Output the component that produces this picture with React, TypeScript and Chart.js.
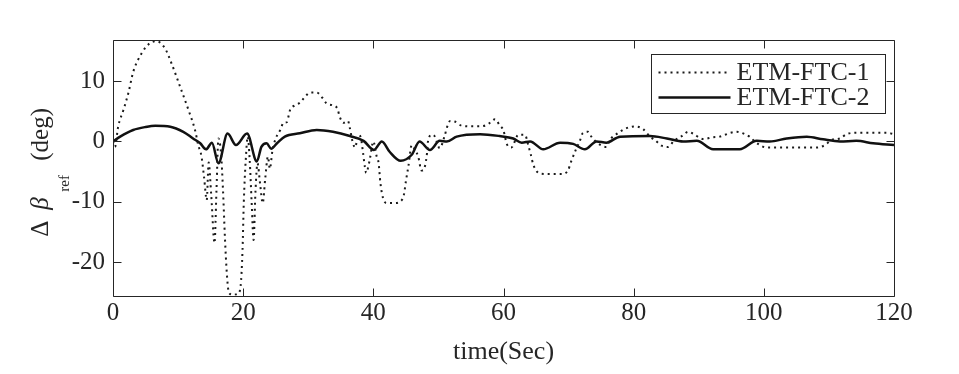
import React, { useEffect, useRef } from "react";
import { Chart, registerables } from "chart.js";

Chart.register(...registerables);

const FONT = "'Liberation Serif', 'Times New Roman', serif";
const INK = "#262626";

const X_TICKS = [0, 20, 40, 60, 80, 100, 120];
const Y_TICKS = [-20, -10, 0, 10];
const X_MIN = 0;
const X_MAX = 120;
const Y_MIN = -25.5;
const Y_MAX = 16.8;
const SERIES_LABELS = ["ETM-FTC-1", "ETM-FTC-2"];

// ETM-FTC-1 (dotted)
const T1 = [
  0, 0.3, 0.8, 1.6, 2.4, 3.1, 4.4, 5.7, 6.7, 8.0, 9.0, 10.3, 11.6, 12.6, 13.1, 13.6, 14.0, 14.4, 14.7, 15.1,
  15.6, 15.9, 16.2, 16.6, 16.9, 17.2, 17.5, 17.8, 18.5, 19.2, 19.6, 19.9, 20.1, 20.4, 20.7, 21.0, 21.3, 21.6,
  21.9, 22.2, 22.6, 23.0, 23.4, 23.8, 24.1, 24.5, 25.0, 25.7, 26.2, 26.7, 27.2, 28.0, 28.7, 29.5, 30.3, 31.3,
  32.2, 32.8, 33.7, 34.5, 34.8, 35.4, 36.1, 36.4, 36.8, 37.2, 37.7, 38.1, 38.4, 38.7, 38.9, 39.2, 39.5, 40.0,
  40.5, 40.8, 41.1, 41.5, 42.1, 43.3, 44.2, 44.7, 45.0, 45.4, 45.9, 46.4, 46.9, 47.4, 47.7, 48.2, 48.4, 49.0,
  49.4, 50.2, 51.0, 51.3, 51.8, 52.5, 53.6, 55.6, 56.6, 57.8, 58.7, 59.4, 60.0, 60.5, 61.2, 62.3, 63.3, 63.8,
  64.2, 64.6, 65.6, 67.1, 68.9, 69.9, 70.4, 71.1, 71.7, 72.2, 73.0, 73.5, 74.5, 75.8, 76.3, 77.6, 78.9, 80.2,
  81.5, 82.5, 83.3, 84.3, 85.3, 86.1, 87.4, 88.4, 89.1, 90.7, 92.2, 93.2, 94.8, 95.8, 97.1, 97.8, 98.6, 99.4,
  100.4, 104.0, 108.1, 109.4, 110.4, 111.7, 112.7, 114.2, 118.8, 120.0,
];
const V1 = [
  0, -0.9, 2.5, 5.2, 8.2, 11.5, 14.6, 16.3, 16.6, 15.4, 12.9, 9.1, 5.2, 1.9, -0.6, -2.5, -6, -9.7, -3.5, -9,
  -16.8, -8, 0.5, -2, -8, -16, -22, -25, -25.4, -25.2, -24, -18, -10, -3, 0.8, -3, -10, -16.3,
  -8, -3.6, -7, -10.2, -6, -2.5, -4.5, -1.5, 0.5, 1.9, 3.1, 3.2, 5.2, 6, 6.4, 7.4, 8.1, 8.1,
  7.2, 6.3, 6, 5.4, 4.2, 3.1, 3.4, 2.2, 0, -1, 1.1, 0.5, -1.7, -4.2, -5.2, -4.3, -2.7, 0,
  -2.4, -3.5, -7, -9.4, -10.2, -10.2, -9.9, -8.8, -6.6, -4, -0.6, -1.4, -2.5, -4.8, -4.7, -2.4, 0, 1.1,
  0.9, -1.1, 1.1, 2.3, 3.4, 3.3, 2.6, 2.5, 2.5, 3, 3.7, 2.7, 1.8, -0.4, -1, 1.1, 1.1, -0.6,
  -2.2, -3.9, -5.3, -5.4, -5.4, -4.8, -3.3, -1.4, 0, 1.4, 1.6, 0.8, -0.3, -0.9, 0.2, 1.4, 2.2, 2.5,
  2, 0.8, 0.2, -0.7, -0.9, 0, 0.9, 1.6, 1.3, 0.4, 0.7, 0.8, 1.4, 1.6, 1.2, 0.8, 0, -0.6,
  -1, -1, -1, -0.6, 0.25, 0.5, 1.2, 1.45, 1.45, 1.2,
];

// ETM-FTC-2 (solid)
const T2 = [
  0, 1.1, 3.1, 5.0, 6.5, 8.8, 10.8, 12.3, 13.4, 14.3, 15.2, 16.2, 17.6, 18.9, 20.6, 22.1, 22.8, 23.6, 24.3,
  25.2, 26.4, 28.7, 31.3, 33.8, 36.4, 38.5, 40.1, 41.3, 42.5, 44.2, 45.9, 47.1, 48.7, 50.2, 51.3, 52.8, 56.4,
  59.4, 61.5, 62.8, 64.1, 66.1, 68.7, 70.7, 72.5, 74.3, 75.8, 77.9, 82.5, 85.1, 87.6, 89.7, 92.2, 96.3, 98.9,
  100.9, 103.5, 106.6, 109.1, 111.7, 114.2, 116.8, 120.0,
];
const V2 = [
  0, 0.8, 1.9, 2.4, 2.6, 2.45, 1.6, 0.5, -0.3, -1.3, -0.2, -3.6, 1.3, -0.6, 1.3, -3.3, -0.9, -0.3, -1.2,
  -0.3, 0.8, 1.35, 1.9, 1.6, 0.9, 0.1, -1.4, 0, -1.7, -3.2, -2.2, 0, -1.4, 0.1, 0, 0.8, 1.2,
  0.9, 0.5, -0.2, 0, -1.3, -0.2, -0.4, -1.3, 0, -0.2, 0.8, 0.9, 0.5, 0, 0.1, -1.3, -1.3, 0.1,
  0, 0.5, 0.8, 0.35, 0, 0.1, -0.3, -0.6,
];

const framePlugin = {
  id: "matlabFrame",
  afterDatasetsDraw(chart: any) {
    const { ctx, chartArea } = chart;
    const xs = chart.scales.x;
    const ys = chart.scales.y;
    const L = Math.round(chartArea.left) + 0.5;
    const R = Math.round(chartArea.right) + 0.5;
    const T = Math.round(chartArea.top) + 0.5;
    const B = Math.round(chartArea.bottom) + 0.5;
    const len = 8;
    ctx.save();
    ctx.strokeStyle = INK;
    ctx.lineWidth = 1;
    ctx.beginPath();
    ctx.rect(L, T, R - L, B - T);
    X_TICKS.forEach((v) => {
      const px = Math.round(xs.getPixelForValue(v)) + 0.5;
      ctx.moveTo(px, B);
      ctx.lineTo(px, B - len);
      ctx.moveTo(px, T);
      ctx.lineTo(px, T + len);
    });
    Y_TICKS.forEach((v) => {
      const py = Math.round(ys.getPixelForValue(v)) + 0.5;
      ctx.moveTo(L, py);
      ctx.lineTo(L + len, py);
      ctx.moveTo(R, py);
      ctx.lineTo(R - len, py);
    });
    ctx.stroke();
    ctx.restore();
  },
};

const legendPlugin = {
  id: "boxLegend",
  afterDraw(chart: any) {
    const { ctx, chartArea } = chart;
    const w = 234;
    const h = 59;
    const x0 = Math.round(chartArea.right - 9 - w) + 0.5;
    const y0 = Math.round(chartArea.top + 14) + 0.5;
    ctx.save();
    ctx.fillStyle = "#ffffff";
    ctx.fillRect(x0, y0, w, h);
    ctx.strokeStyle = INK;
    ctx.lineWidth = 1;
    ctx.strokeRect(x0, y0, w, h);
    const rows = [y0 + 18, y0 + 43];
    chart.data.datasets.forEach((ds: any, i: number) => {
      const ry = rows[i];
      ctx.beginPath();
      ctx.strokeStyle = ds.borderColor;
      ctx.lineWidth = ds.borderWidth;
      ctx.setLineDash(ds.borderDash || []);
      ctx.moveTo(x0 + 7, ry);
      ctx.lineTo(x0 + 79, ry);
      ctx.stroke();
      ctx.setLineDash([]);
      ctx.fillStyle = INK;
      ctx.font = `26px ${FONT}`;
      ctx.textAlign = "left";
      ctx.textBaseline = "middle";
      ctx.fillText(ds.label, x0 + 85, ry + 1);
    });
    ctx.restore();
  },
};

const yTitlePlugin = {
  id: "yTitle",
  afterDraw(chart: any) {
    const { ctx, chartArea } = chart;
    const cy = (chartArea.top + chartArea.bottom) / 2;
    const anchorY = cy + 69;
    ctx.save();
    ctx.translate(48, anchorY);
    ctx.rotate(-Math.PI / 2);
    ctx.fillStyle = INK;
    ctx.textAlign = "left";
    ctx.textBaseline = "alphabetic";
    ctx.font = `25px ${FONT}`;
    ctx.fillText("\u0394", 0, 0);
    ctx.font = `italic 25px ${FONT}`;
    ctx.fillText("\u03B2", 27, 0);
    ctx.font = `15px ${FONT}`;
    ctx.fillText("ref", 45, 21);
    ctx.font = `25px ${FONT}`;
    ctx.fillText("(deg)", 76, 0);
    ctx.restore();
  },
};

export default function App() {
  const ref = useRef<HTMLCanvasElement | null>(null);

  useEffect(() => {
    if (!ref.current) return;
    const d1 = T1.map((t, i) => ({ x: t, y: V1[i] }));
    const d2 = T2.map((t, i) => ({ x: t, y: V2[i] }));
    const chart = new Chart(ref.current, {
      type: "line",
      data: {
        datasets: [
          {
            label: SERIES_LABELS[0],
            data: d1,
            borderColor: "#1a1a1a",
            borderWidth: 2,
            borderDash: [2, 4],
            borderCapStyle: "butt",
            pointRadius: 0,
            fill: false,
            cubicInterpolationMode: "monotone",
          },
          {
            label: SERIES_LABELS[1],
            data: d2,
            borderColor: "#111111",
            borderWidth: 2.5,
            pointRadius: 0,
            fill: false,
            cubicInterpolationMode: "monotone",
          },
        ],
      },
      options: {
        animation: false,
        responsive: false,
        devicePixelRatio: 1,
        layout: { padding: { top: 40, right: 65, left: 0, bottom: 0 } },
        plugins: {
          legend: { display: false },
          tooltip: { enabled: false },
        },
        scales: {
          x: {
            type: "linear",
            min: X_MIN,
            max: X_MAX,
            afterBuildTicks: (s: any) => {
              s.ticks = X_TICKS.map((v) => ({ value: v }));
            },
            afterFit: (s: any) => {
              s.height = 78.5;
            },
            grid: { display: false, drawTicks: false },
            border: { display: false },
            ticks: {
              font: { family: FONT, size: 25 },
              color: INK,
              padding: 3,
              maxRotation: 0,
              autoSkip: false,
            },
            title: {
              display: true,
              text: "time(Sec)",
              font: { family: FONT, size: 26 },
              color: INK,
              padding: { top: 0, bottom: 6 },
            },
          },
          y: {
            type: "linear",
            min: Y_MIN,
            max: Y_MAX,
            afterBuildTicks: (s: any) => {
              s.ticks = Y_TICKS.map((v) => ({ value: v }));
            },
            afterFit: (s: any) => {
              s.width = 113;
            },
            grid: { display: false, drawTicks: false },
            border: { display: false },
            ticks: {
              font: { family: FONT, size: 25 },
              color: INK,
              padding: 8,
            },
            title: { display: false },
          },
        },
      },
      plugins: [framePlugin, legendPlugin, yTitlePlugin],
    } as any);
    return () => chart.destroy();
  }, []);

  return (
    <div style={{ position: "absolute", left: 0, top: 0, width: 959, height: 374, background: "#fff" }}>
      <canvas ref={ref} width={959} height={374} style={{ display: "block" }} />
    </div>
  );
}
